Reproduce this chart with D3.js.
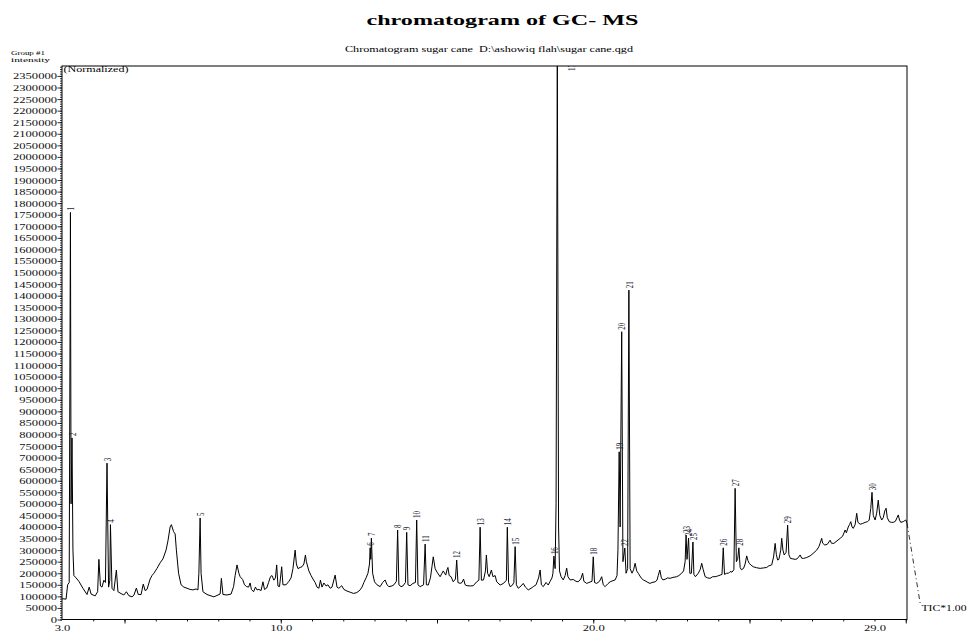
<!DOCTYPE html>
<html><head><meta charset="utf-8">
<script src="https://cdn.jsdelivr.net/npm/d3@7"></script>
<style>body{margin:0;background:#fff}svg{display:block}text{font-family:"Liberation Serif","Times New Roman",serif}</style>
</head><body>
<svg id="c" width="968" height="633"></svg>
<script>
// Retention time (min), intensity
const trace = [
[3.00,90000],[3.13,88000],[3.18,150000],[3.23,160000],[3.27,1760000],[3.29,500000],[3.32,785000],[3.35,300000],
[3.38,190000],[3.45,180000],[3.54,165000],[3.67,135000],[3.80,108000],[3.87,140000],[3.93,110000],[4.06,102000],
[4.14,120000],[4.18,260000],[4.23,145000],[4.28,140000],[4.34,170000],[4.39,160000],[4.44,676000],[4.49,140000],
[4.53,170000],[4.55,410000],[4.60,135000],[4.66,125000],[4.74,214000],[4.79,120000],[4.89,112000],[4.98,106000],
[5.06,120000],[5.14,103000],[5.24,98000],[5.30,105000],[5.38,136000],[5.44,108000],[5.53,108000],[5.60,153000],
[5.66,125000],[5.72,130000],[5.82,175000],[5.88,190000],[5.94,200000],[6.04,221000],[6.14,245000],[6.23,262000],
[6.33,300000],[6.39,340000],[6.46,400000],[6.50,410000],[6.57,380000],[6.62,370000],[6.66,300000],[6.73,200000],
[6.81,150000],[6.90,140000],[7.00,135000],[7.10,130000],[7.19,128000],[7.29,132000],[7.35,128000],[7.38,200000],
[7.42,439000],[7.45,200000],[7.51,120000],[7.64,108000],[7.77,102000],[7.86,98000],[7.96,104000],[8.06,110000],
[8.10,178000],[8.15,108000],[8.28,106000],[8.41,110000],[8.49,142000],[8.54,190000],[8.60,236000],[8.66,200000],
[8.70,185000],[8.78,173000],[8.84,150000],[8.91,142000],[8.97,140000],[9.02,158000],[9.06,130000],[9.13,120000],
[9.19,140000],[9.24,128000],[9.30,130000],[9.37,125000],[9.43,163000],[9.48,130000],[9.55,136000],[9.61,160000],
[9.67,185000],[9.72,190000],[9.78,170000],[9.83,180000],[9.87,236000],[9.91,145000],[9.96,142000],[10.03,228000],
[10.07,150000],[10.17,150000],[10.26,165000],[10.33,180000],[10.39,220000],[10.46,300000],[10.50,240000],[10.55,220000],
[10.62,225000],[10.68,228000],[10.74,240000],[10.79,279000],[10.82,250000],[10.90,210000],[10.97,190000],[11.03,175000],
[11.10,160000],[11.16,140000],[11.22,135000],[11.27,170000],[11.32,140000],[11.38,158000],[11.45,145000],[11.51,150000],
[11.58,135000],[11.64,140000],[11.74,192000],[11.80,140000],[11.86,135000],[11.95,146000],[12.02,130000],[12.12,123000],
[12.22,118000],[12.32,113000],[12.41,115000],[12.47,120000],[12.54,128000],[12.60,140000],[12.66,160000],[12.73,180000],
[12.79,200000],[12.84,240000],[12.86,310000],[12.88,260000],[12.90,352000],[12.94,200000],[13.00,163000],[13.08,150000],
[13.18,142000],[13.26,160000],[13.34,171000],[13.40,150000],[13.46,142000],[13.56,145000],[13.62,150000],[13.70,165000],
[13.74,387000],[13.78,150000],[13.85,142000],[13.91,145000],[13.99,160000],[14.03,377000],[14.07,150000],[14.14,146000],
[14.23,156000],[14.31,160000],[14.35,430000],[14.39,150000],[14.46,142000],[14.57,150000],[14.62,326000],[14.66,150000],
[14.72,149000],[14.79,180000],[14.84,230000],[14.88,271000],[14.94,220000],[15.00,205000],[15.10,185000],[15.16,200000],
[15.20,210000],[15.28,192000],[15.32,215000],[15.35,225000],[15.39,190000],[15.45,185000],[15.52,163000],[15.59,175000],
[15.63,257000],[15.67,160000],[15.74,156000],[15.80,160000],[15.85,175000],[15.90,150000],[15.96,146000],[16.06,145000],
[16.16,146000],[16.27,163000],[16.34,170000],[16.38,399000],[16.42,170000],[16.49,171000],[16.55,210000],[16.58,279000],
[16.62,200000],[16.67,185000],[16.74,214000],[16.79,185000],[16.86,190000],[16.91,163000],[17.02,149000],[17.11,155000],
[17.18,163000],[17.22,170000],[17.25,399000],[17.29,160000],[17.34,142000],[17.41,148000],[17.46,160000],[17.50,315000],
[17.54,150000],[17.60,135000],[17.69,145000],[17.76,156000],[17.83,140000],[17.92,128000],[18.01,135000],[18.08,142000],
[18.17,150000],[18.25,180000],[18.30,214000],[18.34,150000],[18.40,142000],[18.49,160000],[18.56,149000],[18.62,165000],
[18.68,180000],[18.71,200000],[18.74,274000],[18.78,220000],[18.81,500000],[18.85,2450000],[18.89,400000],[18.92,210000],
[18.97,185000],[19.04,171000],[19.10,190000],[19.15,222000],[19.19,185000],[19.26,171000],[19.36,173000],[19.45,165000],
[19.52,163000],[19.60,175000],[19.66,200000],[19.70,165000],[19.79,156000],[19.86,160000],[19.96,165000],[20.00,271000],
[20.04,160000],[20.11,156000],[20.20,165000],[20.27,185000],[20.32,150000],[20.38,142000],[20.47,155000],[20.54,163000],
[20.63,168000],[20.70,171000],[20.76,190000],[20.79,300000],[20.83,725000],[20.86,400000],[20.91,1244000],[20.95,250000],
[21.01,309000],[21.05,200000],[21.10,220000],[21.14,1424000],[21.18,220000],[21.24,200000],[21.29,215000],[21.34,243000],
[21.39,210000],[21.44,200000],[21.53,180000],[21.60,171000],[21.69,165000],[21.75,160000],[21.82,156000],[21.88,160000],
[21.98,163000],[22.04,170000],[22.08,190000],[22.13,214000],[22.18,180000],[22.23,171000],[22.32,175000],[22.38,180000],
[22.46,178000],[22.55,182000],[22.67,185000],[22.74,190000],[22.83,200000],[22.89,210000],[22.94,250000],[22.97,365000],
[23.00,260000],[23.05,352000],[23.09,200000],[23.14,200000],[23.19,335000],[23.22,195000],[23.27,185000],[23.36,200000],
[23.42,215000],[23.47,243000],[23.52,215000],[23.58,185000],[23.66,180000],[23.74,178000],[23.82,185000],[23.90,185000],
[23.98,188000],[24.06,192000],[24.12,195000],[24.16,310000],[24.20,195000],[24.27,200000],[24.33,200000],[24.38,207000],
[24.44,205000],[24.50,215000],[24.54,567000],[24.58,250000],[24.62,260000],[24.66,310000],[24.70,225000],[24.74,215000],
[24.81,221000],[24.86,240000],[24.91,275000],[24.95,255000],[24.99,243000],[25.05,235000],[25.12,228000],[25.22,224000],
[25.34,221000],[25.45,223000],[25.55,225000],[25.62,232000],[25.71,236000],[25.77,270000],[25.82,329000],[25.86,280000],
[25.90,257000],[25.94,260000],[26.00,300000],[26.03,351000],[26.07,300000],[26.11,279000],[26.17,290000],[26.22,408000],
[26.26,280000],[26.31,264000],[26.39,262000],[26.46,260000],[26.52,262000],[26.57,270000],[26.62,279000],[26.67,265000],
[26.73,264000],[26.83,268000],[26.94,275000],[27.03,285000],[27.15,300000],[27.22,315000],[27.26,330000],[27.31,351000],
[27.34,330000],[27.41,322000],[27.49,325000],[27.58,343000],[27.62,330000],[27.70,329000],[27.80,340000],[27.90,351000],
[27.98,360000],[28.06,387000],[28.10,375000],[28.16,400000],[28.20,410000],[28.24,423000],[28.28,400000],[28.32,394000],
[28.38,410000],[28.43,459000],[28.47,420000],[28.54,412000],[28.62,415000],[28.70,420000],[28.78,423000],[28.83,430000],
[28.88,480000],[28.92,550000],[28.96,450000],[29.02,430000],[29.07,460000],[29.12,516000],[29.17,450000],[29.23,430000],
[29.28,440000],[29.33,470000],[29.37,481000],[29.41,440000],[29.47,423000],[29.54,420000],[29.60,420000],[29.67,425000],
[29.72,440000],[29.76,452000],[29.80,430000],[29.84,420000],[29.92,423000],[29.97,428000],[30.00,430000],[30.04,417000]
];
// Peak number, retention time, apex intensity
const peakLabels = [
[1,3.27,1760000],[2,3.32,785000],[3,4.44,676000],[4,4.55,410000],[5,7.42,439000],[6,12.86,310000],
[7,12.90,352000],[8,13.74,387000],[9,14.03,377000],[10,14.35,430000],[11,14.62,326000],[12,15.63,257000],
[13,16.38,399000],[14,17.25,399000],[15,17.50,315000],[16,18.74,274000],[17,18.85,2450000],[18,20.00,271000],
[19,20.83,725000],[20,20.91,1244000],[21,21.14,1424000],[22,21.01,309000],[23,22.97,365000],[24,23.05,352000],
[25,23.19,335000],[26,24.16,310000],[27,24.54,567000],[28,24.66,310000],[29,26.22,408000],[30,28.92,550000]
];
const tailSegment = [[30.04,417000],[30.46,71000]];
const yMajorTicks = d3.range(0, 2350001, 50000);
const yMinorTicks = d3.range(0, 2390001, 10000);
const xMinorTicks = d3.range(4, 31, 1);
const xMajorTicks = [5, 10, 15, 20, 25, 30];
const xTickLabels = [3.0, 10.0, 20.0, 29.0];

const svg = d3.select("#c");
const L = 62, R = 907, T = 66, B = 619.5;
const x = d3.scaleLinear().domain([3, 30.04]).range([L, R]);
const y = d3.scaleLinear().domain([0, 2393000]).range([B, T]);
const SX = 1.5; // horizontal glyph stretch of the original

svg.append("defs").append("clipPath").attr("id","plot")
  .append("rect").attr("x",L).attr("y",T).attr("width",R-L).attr("height",B-T);

// Title texts
svg.append("text").attr("x",502.5).attr("y",25).attr("text-anchor","middle")
  .attr("font-size",15).attr("font-weight","bold").attr("textLength",272).attr("lengthAdjust","spacingAndGlyphs")
  .text("chromatogram of GC- MS");
svg.append("text").attr("x",489).attr("y",52).attr("text-anchor","middle")
  .style("white-space","pre")
  .attr("font-size",8).attr("textLength",288).attr("lengthAdjust","spacingAndGlyphs")
  .text("Chromatogram sugar cane  D:\\ashowiq flah\\sugar cane.qgd");
svg.append("text").attr("x",11).attr("y",54.5).attr("font-size",6.5).attr("textLength",34).attr("lengthAdjust","spacingAndGlyphs").text("Group #1");
svg.append("text").attr("x",11).attr("y",62.3).attr("font-size",6.5).attr("textLength",39).attr("lengthAdjust","spacingAndGlyphs").text("intensity");
svg.append("text").attr("x",63.5).attr("y",71.5).attr("font-size",7.5).attr("textLength",65).attr("lengthAdjust","spacingAndGlyphs").text("(Normalized)");
svg.append("text").attr("x",921.5).attr("y",611).attr("font-size",7.5).attr("textLength",45).attr("lengthAdjust","spacingAndGlyphs").text("TIC*1.00");

// Y axis
const yMin = svg.append("g").attr("transform",`translate(${L},0)`)
  .call(d3.axisLeft(y).tickValues(yMinorTicks).tickSize(2).tickFormat(""));
const yMaj = svg.append("g").attr("transform",`translate(${L},0)`)
  .call(d3.axisLeft(y).tickValues(yMajorTicks).tickSize(4.5).tickFormat(d3.format("d")));
[yMin,yMaj].forEach(g=>{g.select(".domain").remove();g.selectAll("line").attr("stroke","#000").attr("stroke-width",0.8);});
yMaj.selectAll("text").attr("x",null).attr("dy",null)
  .attr("transform",`translate(-5,3) scale(${SX},1)`)
  .attr("font-size",8.4).attr("font-family","Liberation Serif").attr("fill","#111");

// X axis
const xMin = svg.append("g").attr("transform",`translate(0,${B})`)
  .call(d3.axisBottom(x).tickValues(xMinorTicks).tickSize(2).tickFormat(""));
const xMaj = svg.append("g").attr("transform",`translate(0,${B})`)
  .call(d3.axisBottom(x).tickValues(xMajorTicks).tickSize(4).tickFormat(""));
const xLab = svg.append("g").attr("transform",`translate(0,${B})`)
  .call(d3.axisBottom(x).tickValues(xTickLabels).tickSize(0).tickFormat(d3.format(".1f")));
[xMin,xMaj,xLab].forEach(g=>{g.select(".domain").remove();g.selectAll("line").attr("stroke","#000").attr("stroke-width",0.9);});
xLab.selectAll("text").attr("y",null).attr("dy",null)
  .attr("transform",`translate(0,11) scale(${SX},1)`)
  .attr("font-size",8.4).attr("font-family","Liberation Serif").attr("fill","#111");

// Frame
svg.append("rect").attr("x",L).attr("y",T).attr("width",R-L).attr("height",B-T)
  .attr("fill","none").attr("stroke","#000").attr("stroke-width",1);

// Trace
const line = d3.line().x(d=>x(d[0])).y(d=>y(d[1]));
svg.append("path").datum(trace).attr("clip-path","url(#plot)")
  .attr("d",line).attr("fill","none").attr("stroke","#000").attr("stroke-width",1).attr("stroke-linejoin","round");

// Off-scale tail to TIC label
svg.append("path").datum(tailSegment).attr("d",line).attr("fill","none")
  .attr("stroke","#000").attr("stroke-width",0.8).attr("stroke-dasharray","5,3,1,3");

// Peak labels (rotated)
const lab = svg.append("g").attr("clip-path","url(#plot)");
peakLabels.forEach(([n,t,v])=>{
  let px = x(t), py = y(v) - 2;
  if (y(v) < T) { py = T + 5; px += 14; }
  lab.append("text")
    .attr("transform",`translate(${px},${py}) scale(${SX},1) rotate(-90)`)
    .attr("dy","0.35em").attr("font-size",7).attr("fill","#223")
    .text(n);
});
</script>
</body></html>
